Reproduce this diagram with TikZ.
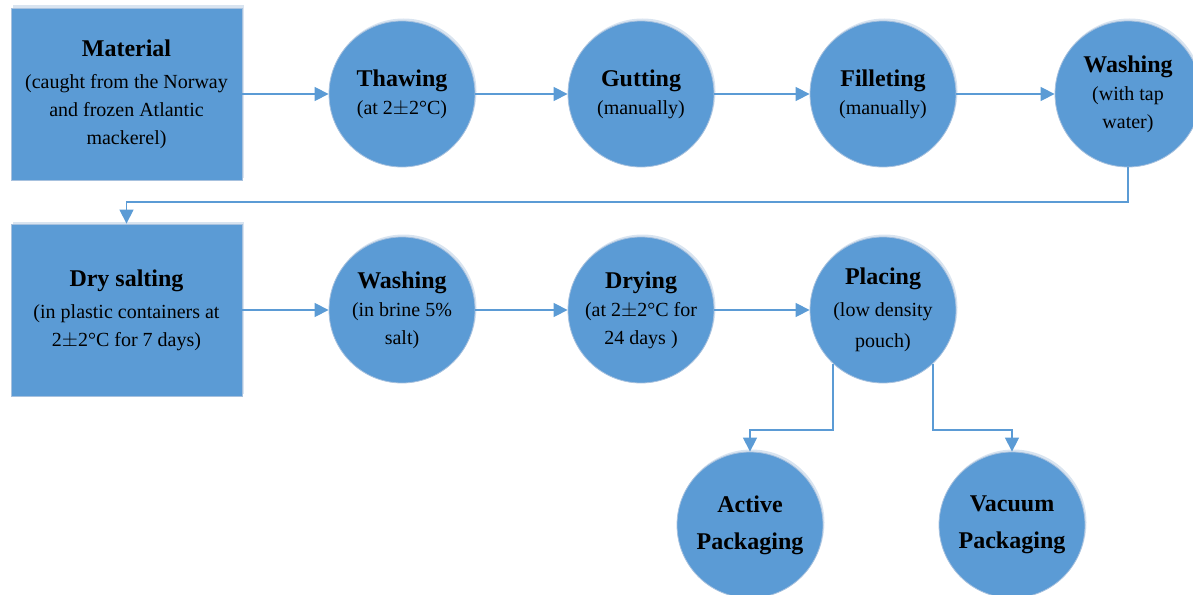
\documentclass[tikz,border=0pt]{standalone}
\usepackage{fontspec}
\setmainfont{Liberation Serif}
\usepackage{tikz}
\usetikzlibrary{arrows.meta,shadows}
\definecolor{stepblue}{HTML}{5B9BD5}
\definecolor{stepedge}{HTML}{A7C1DE}
\definecolor{stepshade}{HTML}{D9E4F0}
\newcommand{\ttl}[1]{{\fontsize{24}{30}\selectfont\bfseries #1}}
\tikzset{
  base/.style={fill=stepblue,draw=stepedge,line width=0.8pt,align=center,inner sep=0pt,
    font=\fontsize{20}{28}\selectfont,
    drop shadow={shadow xshift=1.5pt,shadow yshift=2.5pt,fill=stepshade,opacity=1}},
  stepbox/.style={base,rectangle,minimum width=231pt,minimum height=172pt},
  stepcirc/.style={base,circle,minimum size=146pt},
  flow/.style={draw=stepblue,line width=1.3pt,-{Triangle[length=14pt,width=14pt]}}
}

\begin{document}
\begin{tikzpicture}[x=1pt,y=-1pt]
                \useasboundingbox (0,0) rectangle (1193,594);
                % First row
                \node[stepbox](material) at (126.5,94){\ttl{Material}\\[4pt](caught from the Norway\\and frozen Atlantic\\mackerel)};
                \node[stepcirc](thawing) at (402,94){\ttl{Thawing}\\(at 2$\pm$2°C)};
                \node[stepcirc](gutting) at (641,94){\ttl{Gutting}\\(manually)};
                \node[stepcirc](filleting) at (883,94){\ttl{Filleting}\\(manually)};
                \node[stepcirc](washA) at (1128,94){\ttl{Washing}\\(with tap\\water)};
                % Second row
                \node[stepbox](drysalt) at (126.5,310){\ttl{Dry salting}\\[4pt](in plastic containers at\\2$\pm$2°C for 7 days)};
                \node[stepcirc](washB) at (402,310){\ttl{Washing}\\(in brine 5\%\\salt)};
                \node[stepcirc](drying) at (641,310){\ttl{Drying}\\(at 2$\pm$2°C for\\24 days )};
                \node[stepcirc](placing) at (883,310){\ttl{Placing}\\[4pt](low density\\[3pt]pouch)};
                % Packaging
                \node[stepcirc](active) at (750,525){\ttl{Active}\\[9pt]\ttl{Packaging}};
                \node[stepcirc](vacuum) at (1012,525){\ttl{Vacuum}\\[9pt]\ttl{Packaging}};
                % Arrows
                \draw[flow](material)--(thawing);
                \draw[flow](thawing)--(gutting);
                \draw[flow](gutting)--(filleting);
                \draw[flow](filleting)--(washA);
                \coordinate(turn) at (1128,202);
                \draw[flow](washA.south)--(turn)-|(drysalt.north);
                \draw[flow](drysalt)--(washB);
                \draw[flow](washB)--(drying);
                \draw[flow](drying)--(placing);
                \coordinate(split) at (883,430);
                \draw[flow](placing.227)--(placing.227|-split)-|(active.north);
                \draw[flow](placing.313)--(placing.313|-split)-|(vacuum.north);
\end{tikzpicture}
\end{document}
